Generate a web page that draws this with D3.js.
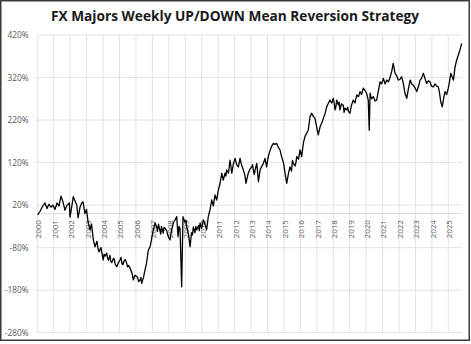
<!DOCTYPE html>
<html><head><meta charset="utf-8">
<script src="https://cdn.jsdelivr.net/npm/d3@7"></script>
<style>body{margin:0;background:#fff}svg{display:block}</style>
</head><body>
<svg id="c" width="471" height="344"></svg>
<script>
const title = "FX Majors Weekly UP/DOWN Mean Reversion Strategy";
const yTicks = [420, 320, 220, 120, 20, -80, -180, -280];
const years = d3.range(2000, 2026);
const dates = [2000.02,2000.16,2000.29,2000.47,2000.59,2000.71,2000.83,2000.95,2001.08,2001.20,2001.32,2001.44,2001.56,2001.68,2001.81,2001.95,2001.99,2002.11,2002.19,2002.29,2002.40,2002.48,2002.60,2002.70,2002.78,2002.90,2002.99,2003.10,2003.21,2003.30,2003.36,2003.41,2003.51,2003.63,2003.69,2003.75,2003.87,2004.01,2004.06,2004.12,2004.22,2004.27,2004.33,2004.42,2004.47,2004.53,2004.64,2004.69,2004.73,2004.83,2004.94,2005.03,2005.09,2005.15,2005.21,2005.27,2005.35,2005.44,2005.49,2005.55,2005.64,2005.76,2005.84,2005.94,2006.05,2006.10,2006.16,2006.25,2006.30,2006.35,2006.46,2006.55,2006.65,2006.75,2006.86,2006.95,2007.06,2007.11,2007.16,2007.26,2007.31,2007.37,2007.46,2007.51,2007.55,2007.66,2007.71,2007.77,2007.87,2007.92,2007.98,2008.07,2008.16,2008.27,2008.38,2008.48,2008.56,2008.62,2008.68,2008.78,2008.86,2008.98,2009.04,2009.09,2009.14,2009.20,2009.29,2009.38,2009.44,2009.49,2009.59,2009.64,2009.70,2009.81,2009.85,2009.90,2009.99,2010.10,2010.20,2010.30,2010.40,2010.50,2010.61,2010.71,2010.81,2010.91,2011.01,2011.11,2011.22,2011.31,2011.42,2011.47,2011.52,2011.63,2011.72,2011.78,2011.83,2011.93,2012.03,2012.08,2012.13,2012.23,2012.28,2012.33,2012.42,2012.53,2012.63,2012.69,2012.83,2012.94,2013.04,2013.09,2013.15,2013.20,2013.25,2013.35,2013.45,2013.55,2013.64,2013.75,2013.85,2013.95,2014.05,2014.15,2014.25,2014.36,2014.46,2014.56,2014.67,2014.76,2014.86,2014.98,2015.07,2015.17,2015.28,2015.37,2015.46,2015.52,2015.57,2015.68,2015.73,2015.78,2015.89,2015.98,2016.08,2016.18,2016.28,2016.38,2016.48,2016.59,2016.69,2016.80,2016.89,2016.99,2017.09,2017.20,2017.29,2017.40,2017.50,2017.60,2017.71,2017.80,2017.91,2018.00,2018.05,2018.11,2018.16,2018.21,2018.32,2018.36,2018.41,2018.50,2018.61,2018.66,2018.72,2018.82,2018.88,2018.93,2019.02,2019.11,2019.22,2019.32,2019.43,2019.54,2019.63,2019.72,2019.83,2019.93,2020.03,2020.13,2020.19,2020.24,2020.33,2020.44,2020.54,2020.64,2020.75,2020.85,2020.94,2021.05,2021.15,2021.25,2021.36,2021.47,2021.56,2021.65,2021.76,2021.85,2021.96,2022.06,2022.16,2022.27,2022.36,2022.47,2022.58,2022.68,2022.77,2022.87,2022.98,2023.08,2023.19,2023.28,2023.37,2023.48,2023.58,2023.68,2023.79,2023.88,2023.97,2024.09,2024.19,2024.29,2024.39,2024.46,2024.54,2024.63,2024.71,2024.80,2024.90,2025.00,2025.07,2025.15,2025.23,2025.31,2025.41,2025.50,2025.61,2025.71,2025.81];
const values = [-3,5,15,25,12,22,15,20,10,25,18,41,28,8,20,25,-8,20,40,30,20,-10,15,25,28,0,10,-22,-38,-25,-45,-62,-78,-65,-82,-90,-80,-109,-96,-100,-93,-104,-110,-98,-112,-115,-105,-108,-118,-125,-115,-109,-103,-118,-120,-112,-108,-117,-125,-122,-128,-140,-156,-145,-148,-150,-160,-156,-150,-164,-150,-133,-115,-86,-78,-60,-38,-30,-22,-31,-42,-25,-40,-48,-30,-46,-32,-35,-40,-48,-55,-62,-40,-22,-15,-7,-54,-30,-35,-172,-7,-20,-16,-31,-40,-50,-78,-45,-50,-31,-45,-30,-38,-28,-40,-22,-35,-15,-25,-38,-7,8,32,18,44,32,55,70,95,79,95,88,103,95,126,110,95,118,130,122,115,110,120,130,115,103,90,71,95,105,110,115,100,92,103,118,75,103,110,118,130,110,134,148,158,165,163,165,155,150,134,118,95,71,95,110,100,125,118,112,120,134,128,150,134,165,181,189,196,228,236,228,224,204,185,204,212,224,235,251,260,267,260,271,262,244,250,267,255,262,244,258,255,238,248,244,250,240,236,255,267,260,279,275,287,280,295,290,283,267,196,283,270,275,265,267,290,310,305,318,305,314,310,322,335,353,330,325,314,316,322,305,283,271,295,314,305,302,295,287,300,314,318,330,318,306,312,310,300,298,305,300,298,285,263,251,270,287,280,295,310,330,322,314,345,360,373,385,400];

const svg = d3.select("#c");
const L = 37.3, R = 462.3, T = 35, B = 332.7;
const x = d3.scaleLinear().domain([2000, 2025.85]).range([L, R]);
const y = d3.scaleLinear().domain([-280, 420]).range([B, T]);

svg.append("rect").attr("x",0.75).attr("y",0.75).attr("width",468.5).attr("height",339.5)
  .attr("fill","#fff").attr("stroke","#3a3a3a").attr("stroke-width",1.5);

const grid = svg.append("g").attr("stroke","#e3e3e3").attr("stroke-width",1);
grid.selectAll("line.h").data(yTicks).join("line")
  .attr("x1",L).attr("x2",R).attr("y1",d=>y(d)).attr("y2",d=>y(d));
grid.selectAll("line.v").data(years).join("line")
  .attr("x1",d=>x(d)).attr("x2",d=>x(d)).attr("y1",T).attr("y2",B);
svg.append("line").attr("x1",L).attr("x2",R).attr("y1",y(0)).attr("y2",y(0))
  .attr("stroke","#dcdcdc").attr("stroke-width",1);

const yAxis = d3.axisLeft(y).tickValues(yTicks).tickSize(0).tickPadding(0).tickFormat(d=>d+"%");
const ga = svg.append("g").attr("transform",`translate(${L-8.8},0)`).call(yAxis);
ga.select(".domain").remove();
ga.selectAll("text").attr("font-family","'Open Sans', sans-serif").attr("font-size",8.3).attr("fill","#595959");

const xAxis = d3.axisBottom(x).tickValues(years).tickSize(0).tickFormat(d3.format("d"));
const gx = svg.append("g").attr("transform",`translate(0.6,${y(0)})`).call(xAxis);
gx.select(".domain").remove();
gx.selectAll("text").attr("font-family","'Open Sans', sans-serif").attr("font-size",8).attr("fill","#595959")
  .attr("text-anchor","end").attr("transform","rotate(-90)").attr("x",-6.5).attr("y",0).attr("dy","0.35em");

const data = dates.map((d,i)=>[d, values[i]]);
svg.append("path").datum(data).attr("fill","none").attr("stroke","#000").attr("stroke-width",1.3)
  .attr("stroke-linejoin","round")
  .attr("d", d3.line().x(d=>x(d[0])).y(d=>y(d[1])));

svg.append("text").attr("x",235).attr("y",20.5).attr("text-anchor","middle")
  .attr("font-family","'Open Sans', sans-serif").attr("font-weight","bold").attr("font-size",14.5)
  .attr("textLength",368).attr("lengthAdjust","spacingAndGlyphs")
  .attr("fill","#1a1a1a").text(title);
</script>
</body></html>
